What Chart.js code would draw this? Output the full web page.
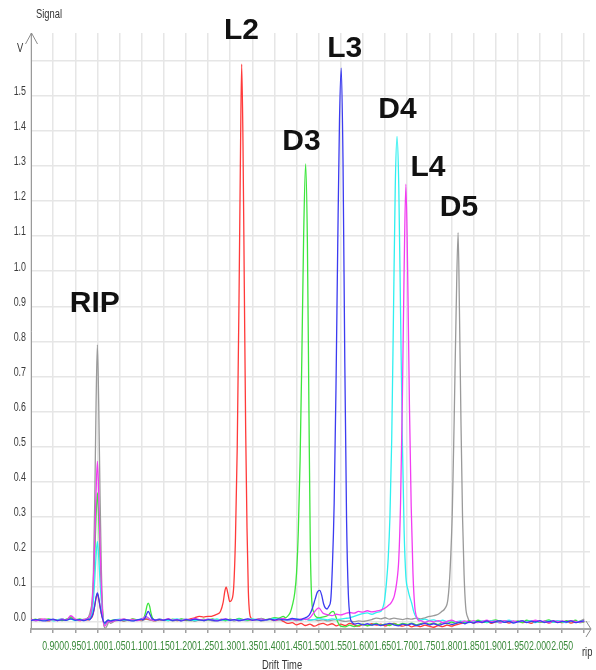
<!DOCTYPE html>
<html>
<head>
<meta charset="utf-8">
<script src="https://cdn.jsdelivr.net/npm/chart.js@4.4.1/dist/chart.umd.min.js"></script>
<style>
    html, body { margin: 0; padding: 0; background: #ffffff; }
    #wrap { width: 596px; height: 670px; }
</style>
</head>
<body>
<div id="wrap"><canvas id="driftChart"></canvas></div>
<script>
        // Drift time grid shared by the baseline readings
        const driftGrid = [
            0.85, 0.86, 0.87, 0.88, 0.89, 0.90, 0.91, 0.92, 0.93, 0.94,
            0.95, 0.96, 0.97, 0.98, 0.99, 1.00, 1.01, 1.02, 1.03, 1.04,
            1.05, 1.06, 1.07, 1.08, 1.09, 1.10, 1.11, 1.12, 1.13, 1.14,
            1.15, 1.16, 1.17, 1.18, 1.19, 1.20, 1.21, 1.22, 1.23, 1.24,
            1.25, 1.26, 1.27, 1.28, 1.29, 1.30, 1.31, 1.32, 1.33, 1.34,
            1.35, 1.36, 1.37, 1.38, 1.39, 1.40, 1.41, 1.42, 1.43, 1.44,
            1.45, 1.46, 1.47, 1.48, 1.49, 1.50, 1.51, 1.52, 1.53, 1.54,
            1.55, 1.56, 1.57, 1.58, 1.59, 1.60, 1.61, 1.62, 1.63, 1.64,
            1.65, 1.66, 1.67, 1.68, 1.69, 1.70, 1.71, 1.72, 1.73, 1.74,
            1.75, 1.76, 1.77, 1.78, 1.79, 1.80, 1.81, 1.82, 1.83, 1.84,
            1.85, 1.86, 1.87, 1.88, 1.89, 1.90, 1.91, 1.92, 1.93, 1.94,
            1.95, 1.96, 1.97, 1.98, 1.99, 2.00, 2.01, 2.02, 2.03, 2.04,
            2.05, 2.06, 2.07, 2.08, 2.09, 2.10
        ];

        // Baseline signal (V) of each trace on driftGrid
        const grayBase = [
            0.006, 0.004, 0.007, 0.005, 0.003, 0.006, 0.004, 0.008, 0.005, 0.016,
            0.007, 0.005, 0.008, 0.015, 0.12, 0.79, 0.02, -0.016, -0.004, 0.003,
            0.005, 0.002, 0.006, 0.004, 0.007, 0.003, 0.008, 0.005, 0.003, 0.006,
            0.004, 0.007, 0.003, 0.006, 0.008, 0.004, 0.005, 0.002, 0.006, 0.004,
            0.007, 0.003, 0.005, 0.008, 0.004, 0.006, 0.003, 0.007, 0.005, 0.004,
            0.006, 0.008, 0.003, 0.005, 0.007, 0.004, 0.006, 0.009, 0.005, 0.007,
            0.004, 0.006, 0.008, 0.005, 0.007, 0.004, 0.006, 0.003, 0.005, 0.007,
            0.004, 0.002, 0.003, 0.001, 0.003, 0.002, 0.004, 0.007, 0.011, 0.009,
            0.012, 0.008, 0.011, 0.009, 0.007, 0.010, 0.008, 0.011, 0.009, 0.012,
            0.016, 0.019, 0.028, 0.04, 0.07, 0.3, 0.9, 0.3, 0.02, 0.003,
            0.001, -0.002, 0.002, 0.0, 0.003, -0.001, 0.002, 0.004, 0.0, 0.002,
            -0.001, 0.003, 0.001, 0.004, 0.0, 0.002, -0.002, 0.003, 0.001, 0.0,
            0.002, -0.001, 0.003, 0.0, 0.002, 0.008
        ];
        const redBase = [
            0.008, 0.005, 0.009, 0.006, 0.004, 0.007, 0.005, 0.008, 0.006, 0.01,
            0.006, 0.004, 0.007, 0.006, 0.02, 0.08, 0.01, -0.004, 0.002, 0.005,
            0.007, 0.004, 0.006, 0.008, 0.005, 0.007, 0.009, 0.006, 0.004, 0.007,
            0.005, 0.008, 0.006, 0.004, 0.007, 0.005, 0.009, 0.012, 0.016, 0.014,
            0.016, 0.02, 0.025, 0.05, 0.099, 0.058, 0.1, 0.9, 1.0, 0.08,
            0.01, 0.007, 0.009, 0.006, 0.008, 0.005, 0.007, 0.002, -0.004, -0.002,
            -0.008, -0.004, -0.01, -0.006, -0.012, -0.007, -0.004, -0.009, -0.005, -0.011,
            -0.006, -0.01, -0.004, -0.008, -0.012, -0.007, -0.01, -0.005, -0.009, -0.006,
            -0.011, -0.007, -0.004, -0.009, -0.012, -0.008, -0.014, -0.01, -0.013, -0.009,
            -0.012, -0.015, -0.01, -0.013, -0.009, -0.012, -0.008, -0.005, -0.002, 0.0,
            -0.003, 0.001, -0.002, 0.002, -0.004, 0.0, -0.002, 0.001, -0.003, 0.0,
            0.002, -0.002, 0.0, -0.004, 0.001, -0.001, 0.002, -0.003, 0.0, 0.001,
            -0.002, 0.001, -0.003, 0.0, 0.002, -0.001
        ];
        const greenBase = [
            0.005, 0.008, 0.004, 0.007, 0.009, 0.005, 0.006, 0.004, 0.008, 0.012,
            0.006, 0.009, 0.005, 0.012, 0.05, 0.368, 0.02, -0.006, 0.004, 0.007,
            0.005, 0.008, 0.004, 0.009, 0.006, 0.01, 0.05, 0.012, 0.005, 0.008,
            0.006, 0.004, 0.008, 0.005, 0.009, 0.006, 0.004, 0.007, 0.005, 0.008,
            0.006, 0.009, 0.005, 0.007, 0.004, 0.008, 0.006, 0.01, 0.007, 0.005,
            0.008, 0.006, 0.01, 0.007, 0.009, 0.012, 0.011, 0.016, 0.03, 0.065,
            0.2, 1.0, 0.05, 0.015, 0.012, 0.014, 0.022, 0.03, 0.015, -0.006,
            -0.012, -0.014, -0.009, -0.013, -0.01, -0.006, -0.011, -0.008, -0.004, -0.009,
            -0.006, -0.01, -0.005, -0.008, -0.004, -0.007, -0.003, -0.008, -0.005, -0.002,
            -0.006, -0.003, -0.007, -0.002, -0.005, 0.0, -0.004, 0.002, -0.002, 0.004,
            0.0, 0.005, 0.001, -0.002, 0.003, 0.006, 0.001, -0.001, 0.004, 0.0,
            0.003, -0.002, 0.005, 0.001, 0.004, -0.001, 0.002, 0.006, 0.0, 0.003,
            -0.001, 0.004, 0.001, 0.005, -0.002, 0.002
        ];
        const blueBase = [
            0.004, 0.007, 0.005, 0.003, 0.006, 0.008, 0.004, 0.006, 0.005, 0.009,
            0.005, 0.007, 0.004, 0.008, 0.02, 0.083, 0.01, -0.004, 0.003, 0.006,
            0.004, 0.007, 0.005, 0.003, 0.006, 0.008, 0.03, 0.009, 0.005, 0.007,
            0.005, 0.008, 0.004, 0.006, 0.003, 0.007, 0.005, 0.008, 0.006, 0.004,
            0.007, 0.005, 0.003, 0.006, 0.008, 0.005, 0.007, 0.004, 0.006, 0.009,
            0.005, 0.007, 0.004, 0.006, 0.008, 0.005, 0.009, 0.006, 0.007, 0.01,
            0.008, 0.006, 0.01, 0.013, 0.03, 0.09, 0.04, 0.05, 0.3, 1.4,
            1.5, 0.3, 0.0, -0.006, -0.004, -0.008, -0.005, -0.009, -0.006, -0.01,
            -0.007, -0.004, -0.008, -0.011, -0.006, -0.009, -0.005, -0.01, -0.007, -0.004,
            -0.008, -0.005, -0.009, -0.006, -0.003, -0.007, -0.004, -0.001, -0.005, 0.0,
            -0.003, 0.002, -0.001, 0.003, -0.002, 0.001, 0.004, -0.001, 0.002, -0.003,
            0.001, 0.003, -0.002, 0.002, 0.0, 0.004, -0.001, 0.001, 0.003, -0.002,
            0.002, 0.0, 0.003, -0.002, 0.001, 0.003
        ];
        const cyanBase = [
            0.006, 0.004, 0.008, 0.005, 0.007, 0.003, 0.006, 0.009, 0.005, 0.008,
            0.004, 0.007, 0.005, 0.01, 0.04, 0.23, 0.015, -0.005, 0.003, 0.006,
            0.008, 0.005, 0.007, 0.004, 0.006, 0.009, 0.014, 0.007, 0.005, 0.008,
            0.006, 0.004, 0.007, 0.009, 0.005, 0.008, 0.006, 0.004, 0.007, 0.005,
            0.008, 0.006, 0.009, 0.005, 0.007, 0.004, 0.006, 0.008, 0.005, 0.007,
            0.009, 0.006, 0.008, 0.005, 0.007, 0.01, 0.006, 0.008, 0.005, 0.007,
            0.009, 0.006, 0.008, 0.005, 0.007, 0.01, 0.008, 0.006, 0.009, 0.007,
            0.008, 0.01, 0.012, 0.016, 0.02, 0.024, 0.026, 0.022, 0.027, 0.03,
            0.07, 0.4, 1.2, 0.4, 0.1, 0.054, 0.02, 0.01, 0.006, 0.008,
            0.004, 0.006, 0.002, 0.005, 0.001, 0.004, 0.0, 0.003, 0.001, -0.002,
            0.002, 0.0, 0.003, -0.001, 0.004, 0.001, -0.002, 0.002, 0.005, 0.0,
            -0.001, 0.003, 0.001, 0.004, -0.002, 0.002, 0.0, 0.003, -0.001, 0.004,
            0.001, -0.002, 0.003, 0.0, 0.002, 0.001
        ];
        const magentaBase = [
            0.007, 0.004, 0.006, 0.009, 0.005, 0.007, 0.004, 0.008, 0.006, 0.018,
            0.008, 0.005, 0.007, 0.012, 0.09, 0.458, 0.02, -0.012, 0.0, 0.004,
            0.006, 0.009, 0.005, 0.007, 0.004, 0.008, 0.015, 0.007, 0.005, 0.008,
            0.006, 0.009, 0.005, 0.007, 0.004, 0.008, 0.006, 0.01, 0.007, 0.005,
            0.008, 0.006, 0.004, 0.007, 0.009, 0.005, 0.007, 0.004, 0.006, 0.008,
            0.005, 0.007, 0.009, 0.006, 0.008, 0.005, 0.007, 0.01, 0.006, 0.008,
            0.006, 0.009, 0.007, 0.012, 0.028, 0.04, 0.025, 0.021, 0.018, 0.022,
            0.02, 0.024, 0.027, 0.025, 0.03, 0.028, 0.032, 0.029, 0.031, 0.034,
            0.04, 0.05, 0.07, 0.3, 0.8, 0.9, 0.2, 0.01, 0.004, -0.001,
            0.003, 0.0, 0.004, -0.002, 0.002, 0.005, 0.001, -0.001, 0.003, 0.0,
            0.004, -0.001, 0.002, 0.005, 0.0, 0.003, -0.002, 0.004, 0.001, 0.003,
            0.0, 0.004, -0.001, 0.002, 0.005, 0.001, 0.003, -0.002, 0.004, 0.001,
            0.003, 0.0, 0.004, 0.001, -0.001, 0.003
        ];

        // Peak readings [drift, signal], finer than the grid
        const grayPeaks = [
            [[0.975, 0.008], [0.980, 0.014], [0.984, 0.03], [0.988, 0.06], [0.991, 0.14], [0.994, 0.34], [0.997, 0.62], [1.000, 0.79],
             [1.003, 0.62], [1.006, 0.36], [1.009, 0.15], [1.012, 0.03], [1.015, -0.012], [1.018, -0.018], [1.022, -0.01], [1.026, 0.0]],
            [[1.760, 0.018], [1.770, 0.022], [1.778, 0.03], [1.785, 0.038], [1.792, 0.065], [1.797, 0.15], [1.802, 0.32], [1.806, 0.57],
             [1.8106, 0.89], [1.815, 1.11], [1.818, 0.89], [1.8216, 0.56], [1.825, 0.30], [1.8285, 0.135], [1.832, 0.045], [1.837, 0.012], [1.842, 0.002]]
        ];
        const redPeaks = [
            [[0.982, 0.008], [0.985, 0.01], [0.988, 0.014], [0.991, 0.026], [0.994, 0.046], [0.997, 0.068], [1.000, 0.08],
             [1.003, 0.066], [1.006, 0.044], [1.009, 0.024], [1.012, 0.008], [1.016, -0.004], [1.020, 0.0], [1.024, 0.004]],
            [[1.255, 0.016], [1.262, 0.018], [1.270, 0.022], [1.278, 0.03], [1.284, 0.055], [1.288, 0.088], [1.291, 0.099], [1.295, 0.08],
             [1.299, 0.058], [1.303, 0.062], [1.308, 0.1], [1.312, 0.24], [1.316, 0.50], [1.320, 0.92], [1.323, 1.30], [1.326, 1.59],
             [1.329, 1.36], [1.332, 0.95], [1.335, 0.55], [1.338, 0.27], [1.341, 0.09], [1.344, 0.025], [1.348, 0.01], [1.353, 0.006]]
        ];
        const greenPeaks = [
            [[0.982, 0.01], [0.985, 0.016], [0.988, 0.04], [0.991, 0.1], [0.994, 0.19], [0.997, 0.3], [1.000, 0.368],
             [1.003, 0.295], [1.006, 0.18], [1.009, 0.09], [1.012, 0.025], [1.016, -0.006], [1.020, -0.002], [1.024, 0.005]],
            [[1.100, 0.008], [1.105, 0.012], [1.109, 0.028], [1.112, 0.046], [1.115, 0.054], [1.118, 0.045], [1.121, 0.026], [1.125, 0.01], [1.130, 0.006]],
            [[1.425, 0.012], [1.431, 0.018], [1.436, 0.028], [1.441, 0.05], [1.446, 0.084], [1.450, 0.14], [1.454, 0.26], [1.458, 0.46],
             [1.462, 0.76], [1.466, 1.1], [1.4705, 1.306], [1.4745, 1.08], [1.478, 0.6], [1.481, 0.22], [1.484, 0.07], [1.488, 0.03],
             [1.493, 0.016], [1.500, 0.012], [1.508, 0.014], [1.516, 0.016], [1.522, 0.02], [1.528, 0.028], [1.533, 0.03], [1.538, 0.018],
             [1.543, 0.0], [1.548, -0.01]]
        ];
        const bluePeaks = [
            [[0.982, 0.006], [0.985, 0.01], [0.988, 0.016], [0.991, 0.028], [0.994, 0.048], [0.997, 0.07], [1.000, 0.083],
             [1.003, 0.068], [1.006, 0.045], [1.009, 0.024], [1.012, 0.008], [1.016, -0.003], [1.020, 0.001], [1.024, 0.005]],
            [[1.102, 0.006], [1.107, 0.01], [1.111, 0.022], [1.115, 0.03], [1.119, 0.021], [1.123, 0.01], [1.128, 0.007]],
            [[1.465, 0.01], [1.472, 0.013], [1.479, 0.02], [1.486, 0.04], [1.492, 0.065], [1.497, 0.085], [1.5025, 0.09], [1.507, 0.075],
             [1.511, 0.052], [1.515, 0.04], [1.519, 0.037], [1.523, 0.045], [1.527, 0.06], [1.531, 0.16], [1.535, 0.34], [1.539, 0.66],
             [1.543, 1.07], [1.547, 1.43], [1.551, 1.579], [1.555, 1.31], [1.559, 0.74], [1.563, 0.29], [1.567, 0.08], [1.571, 0.015],
             [1.576, -0.002], [1.582, -0.006]]
        ];
        const cyanPeaks = [
            [[0.982, 0.008], [0.985, 0.012], [0.988, 0.026], [0.991, 0.062], [0.994, 0.12], [0.997, 0.188], [1.000, 0.23],
             [1.003, 0.185], [1.006, 0.115], [1.009, 0.058], [1.012, 0.018], [1.016, -0.005], [1.020, 0.0], [1.024, 0.005]],
            [[1.642, 0.032], [1.646, 0.045], [1.649, 0.064], [1.653, 0.11], [1.657, 0.18], [1.661, 0.30], [1.665, 0.52], [1.669, 0.88],
             [1.673, 1.24], [1.677, 1.384], [1.681, 1.24], [1.685, 0.88], [1.689, 0.52], [1.693, 0.26], [1.697, 0.13], [1.702, 0.09],
             [1.706, 0.07], [1.710, 0.054], [1.715, 0.028], [1.721, 0.012], [1.727, 0.007]]
        ];
        const magentaPeaks = [
            [[0.980, 0.012], [0.984, 0.02], [0.988, 0.05], [0.991, 0.12], [0.994, 0.23], [0.997, 0.37], [1.000, 0.458],
             [1.003, 0.37], [1.006, 0.22], [1.009, 0.1], [1.012, 0.02], [1.016, -0.012], [1.020, -0.006], [1.025, 0.002]],
            [[1.662, 0.052], [1.667, 0.062], [1.671, 0.075], [1.676, 0.11], [1.681, 0.18], [1.685, 0.34], [1.689, 0.63], [1.693, 1.0],
             [1.697, 1.248], [1.701, 1.0], [1.705, 0.62], [1.709, 0.33], [1.713, 0.14], [1.717, 0.045], [1.722, 0.012], [1.728, 0.003]]
        ];

        // Peak names and where they are written (drift, signal)
        const peakNames = ['RIP', 'L2', 'D3', 'L3', 'D4', 'L4', 'D5'];
        const peakLabelDrift = [0.994, 1.3255, 1.461, 1.559, 1.678, 1.747, 1.817];
        const peakLabelSignal = [0.913, 1.693, 1.376, 1.640, 1.468, 1.303, 1.189];

        function buildTrace(base, segments) {
            const pts = [];
            driftGrid.forEach(function(x, i) {
                const inside = segments.some(function(seg) {
                    return x >= seg[0][0] && x <= seg[seg.length - 1][0];
                });
                if (!inside) pts.push({ x: x, y: base[i] });
            });
            segments.forEach(function(seg) {
                seg.forEach(function(p) { pts.push({ x: p[0], y: p[1] }); });
            });
            pts.sort(function(a, b) { return a.x - b.x; });
            return pts;
        }

        // narrow-looking text like the original screenshot
        function squeezed(ctx, text, x, y, align, color, scaleX) {
            ctx.save();
            ctx.translate(x, y);
            ctx.scale(scaleX, 1);
            ctx.fillStyle = color;
            ctx.textAlign = align;
            ctx.textBaseline = 'middle';
            ctx.fillText(text, 0, 0);
            ctx.restore();
        }

        function tidy(v, digits) {
            const r = Math.round(v * 1000) / 1000;
            return (Math.abs(r) < 1e-9 ? 0 : r).toFixed(digits);
        }

        const axisDecor = {
            id: 'axisDecor',
            afterDraw: function(chart) {
                const ctx = chart.ctx;
                const area = chart.chartArea;
                const xs = chart.scales.x;
                const ys = chart.scales.y;
                ctx.save();

                // arrow heads on both axes
                ctx.strokeStyle = '#8a8a8a';
                ctx.lineWidth = 1;
                ctx.beginPath();
                ctx.moveTo(area.left - 5.5, area.top + 11);
                ctx.lineTo(area.left + 0.5, area.top);
                ctx.lineTo(area.left + 6.5, area.top + 11);
                ctx.moveTo(area.right - 4, area.bottom - 8);
                ctx.lineTo(area.right + 1, area.bottom);
                ctx.lineTo(area.right - 4, area.bottom + 8);
                ctx.stroke();

                ctx.font = '12px "Liberation Sans", Arial, sans-serif';
                ys.ticks.forEach(function(t) {
                    if (t.value < -0.001 || t.value > 1.55) return;
                    squeezed(ctx, tidy(t.value, 1), area.left - 5, ys.getPixelForValue(t.value) - 4, 'right', '#3a3a3a', 0.74);
                });
                xs.ticks.forEach(function(t) {
                    if (t.value < 0.87 || t.value > 2.07) return;
                    squeezed(ctx, tidy(t.value, 3), xs.getPixelForValue(t.value), 647, 'center', '#3a8a3a', 0.73);
                });
                squeezed(ctx, 'Signal', 49, 15, 'center', '#333333', 0.78);
                squeezed(ctx, 'V', 20, 49, 'center', '#333333', 0.78);
                squeezed(ctx, 'Drift Time', 282, 666, 'center', '#333333', 0.78);
                squeezed(ctx, 'rip', 582, 653, 'left', '#333333', 0.78);

                // peak names
                ctx.font = 'bold 30px "Liberation Sans", Arial, sans-serif';
                ctx.fillStyle = '#111111';
                ctx.textAlign = 'center';
                ctx.textBaseline = 'alphabetic';
                peakNames.forEach(function(name, i) {
                    const px = xs.getPixelForValue(peakLabelDrift[i]);
                    const py = ys.getPixelForValue(peakLabelSignal[i]);
                    ctx.fillText(name, px, py + 10.7);
                });
                ctx.restore();
            }
        };

        const traceStyle = function(label, color, data) {
            return {
                label: label,
                data: data,
                borderColor: color,
                borderWidth: 1.3,
                pointRadius: 0,
                fill: false,
                cubicInterpolationMode: 'monotone'
            };
        };

        const ctx = document.getElementById('driftChart').getContext('2d');
        new Chart(ctx, {
            type: 'line',
            data: {
                datasets: [
                    traceStyle('blue', '#3b3bf0', buildTrace(blueBase, bluePeaks)),
                    traceStyle('magenta', '#f23cf2', buildTrace(magentaBase, magentaPeaks)),
                    traceStyle('cyan', '#2ff0f0', buildTrace(cyanBase, cyanPeaks)),
                    traceStyle('green', '#3de63d', buildTrace(greenBase, greenPeaks)),
                    traceStyle('red', '#ff3a3a', buildTrace(redBase, redPeaks)),
                    traceStyle('gray', '#9a9a9a', buildTrace(grayBase, grayPeaks))
                ]
            },
            options: {
                responsive: true,
                maintainAspectRatio: false,
                animation: false,
                layout: {
                    padding: { top: 33, right: 6, left: 0, bottom: 0 }
                },
                plugins: {
                    legend: { display: false },
                    tooltip: { enabled: false }
                },
                scales: {
                    x: {
                        type: 'linear',
                        min: 0.85,
                        max: 2.113,
                        afterFit: function(scale) { scale.height = 41; },
                        ticks: { stepSize: 0.05, includeBounds: false, display: false },
                        grid: { color: '#e6e6e6', lineWidth: 1.5, tickLength: 4, tickColor: '#a0a0a0' },
                        border: { color: '#a8a8a8', width: 2 }
                    },
                    y: {
                        type: 'linear',
                        min: -0.02,
                        max: 1.679,
                        afterFit: function(scale) { scale.width = 31; },
                        ticks: { stepSize: 0.1, includeBounds: false, display: false },
                        grid: { color: '#e6e6e6', lineWidth: 1.5, drawTicks: false },
                        border: { color: '#9a9a9a', width: 1 }
                    }
                }
            },
            plugins: [axisDecor]
        });
</script>
</body>
</html>
